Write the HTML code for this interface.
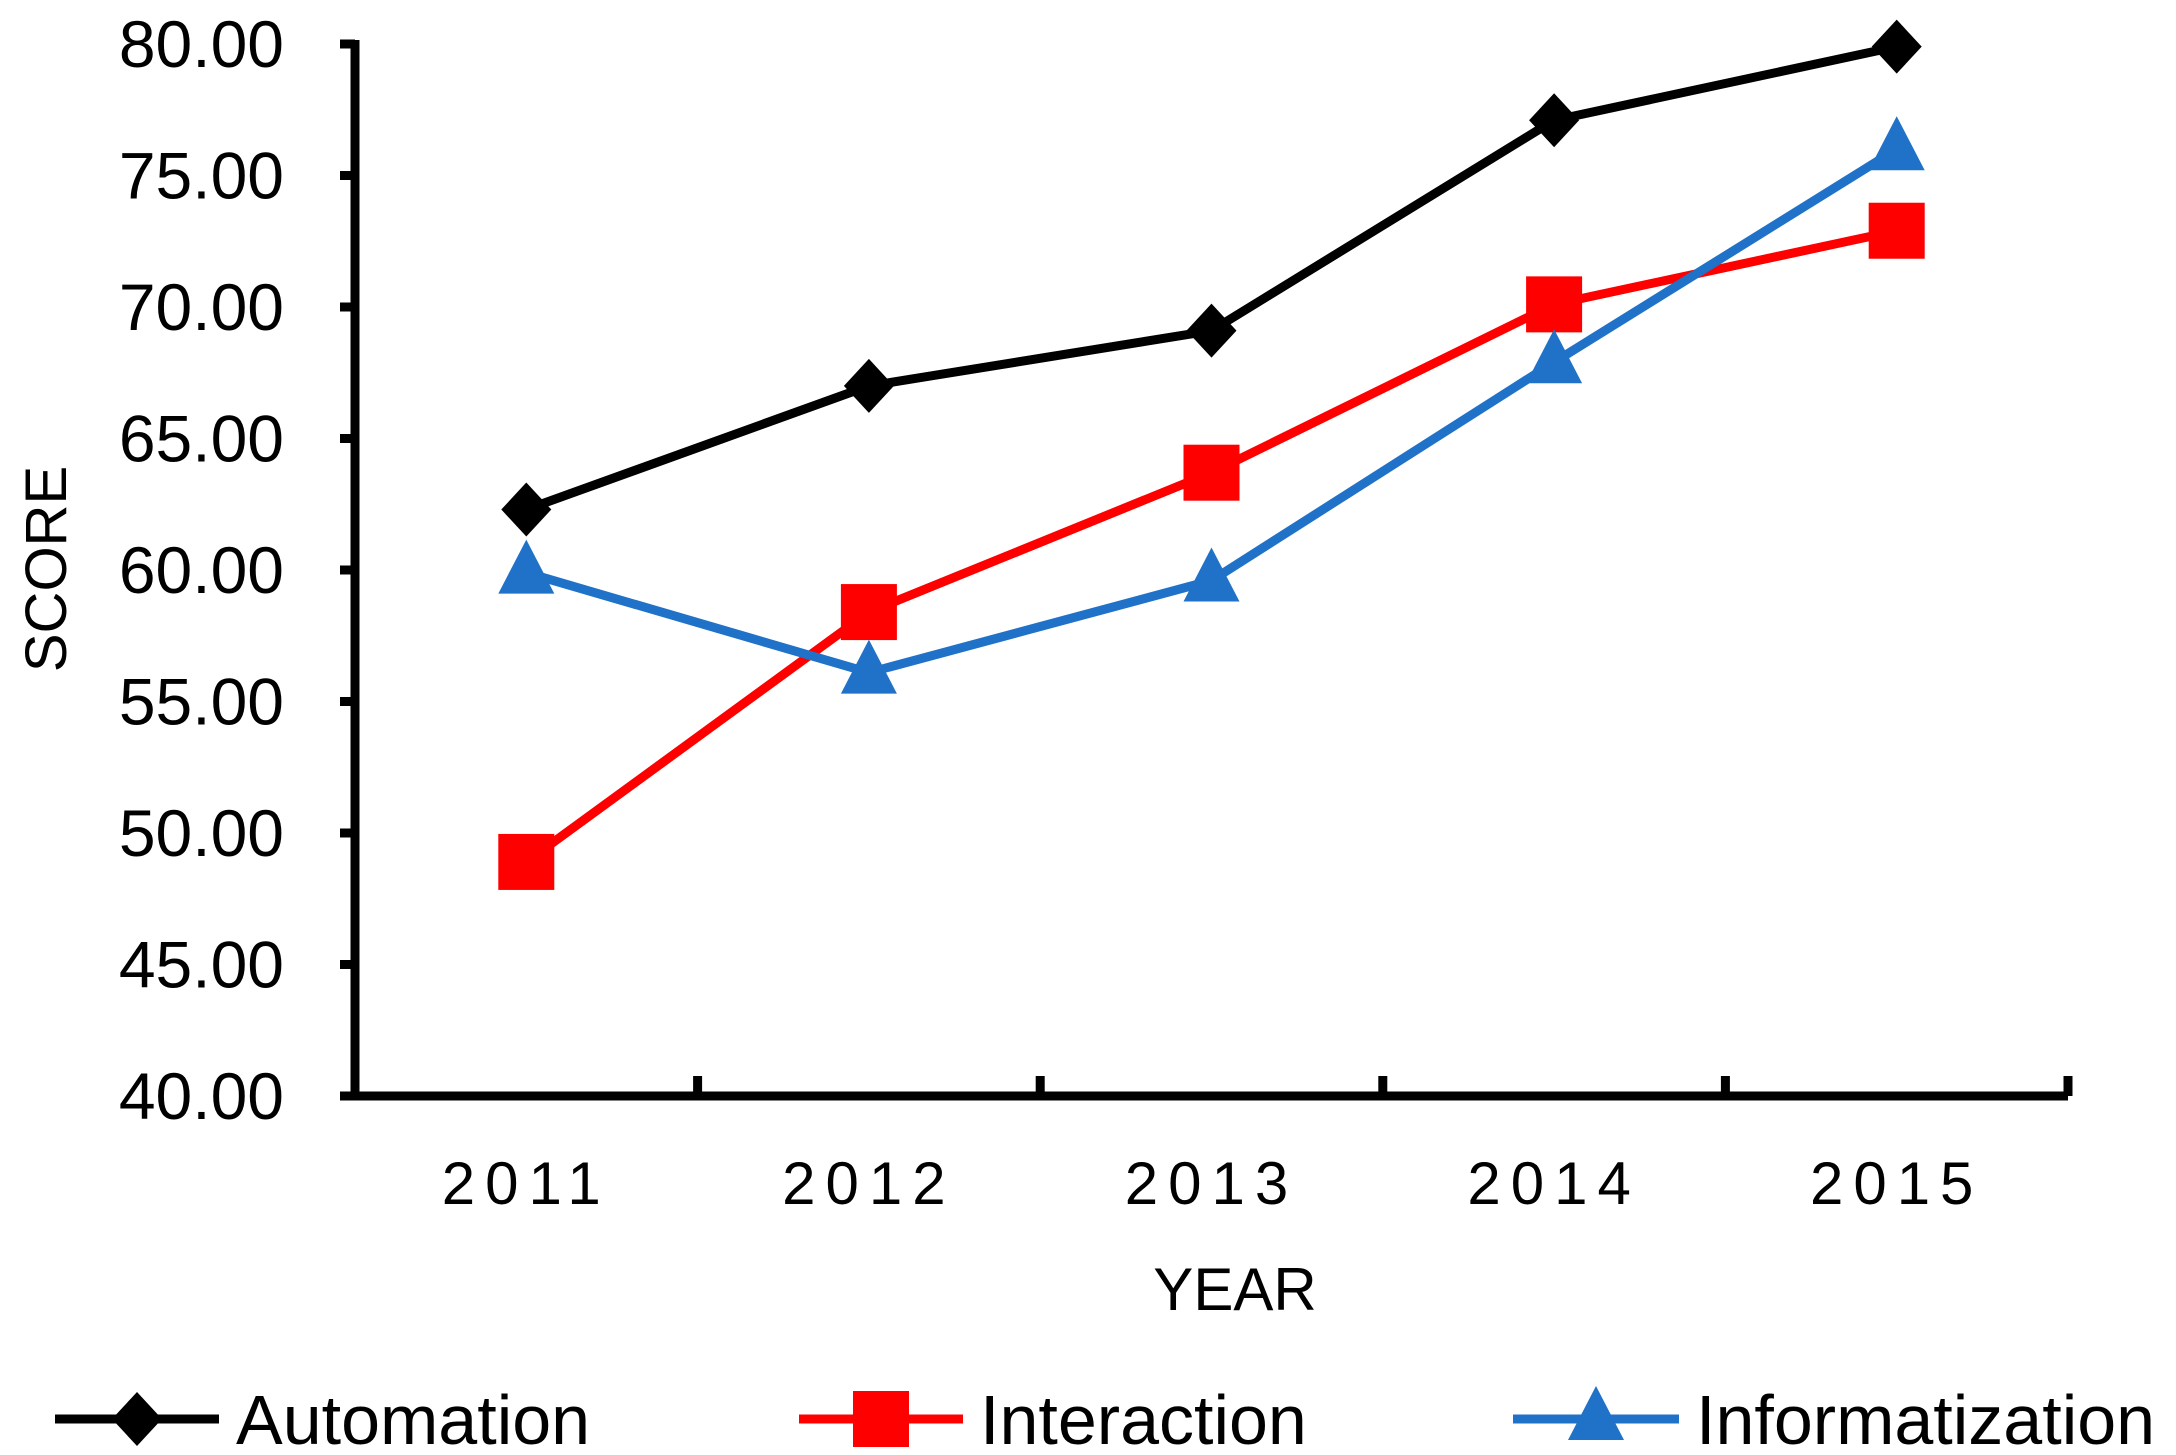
<!DOCTYPE html>
<html><head><meta charset="utf-8"><style>
html,body{margin:0;padding:0;background:#fff;}
svg{display:block;font-family:"Liberation Sans",sans-serif;}
</style></head><body>
<svg id="chart" width="2176" height="1455" viewBox="0 0 2176 1455">
<g id="axes"></g>
<g id="series"></g>
<g id="legend"></g>
</svg>
<script>
const categories = ["2011","2012","2013","2014","2015"];
const automation = [62.3, 67.0, 69.1, 77.1, 79.9];
const interaction = [48.9, 58.4, 63.7, 70.1, 72.9];
const informatization = [59.9, 56.1, 59.6, 67.9, 76.0];
const yTicks = [40,45,50,55,60,65,70,75,80];
const seriesNames = ["Automation","Interaction","Informatization"];

const NS="http://www.w3.org/2000/svg";
const X0=355,X1=2068,Y0=1096,Y1=44,YMIN=40,YMAX=80;
const step=(X1-X0)/categories.length;
function xPos(i){return X0+step*(i+0.5);}
function yPos(v){return Y0-(v-YMIN)/(YMAX-YMIN)*(Y0-Y1);}
function mk(tag,attrs,parent){const e=document.createElementNS(NS,tag);for(const k in attrs)e.setAttribute(k,attrs[k]);parent.appendChild(e);return e;}
const axes=document.getElementById('axes'),series=document.getElementById('series'),legend=document.getElementById('legend');

let e=mk('line',{x1:X0,y1:Y1-4,x2:X0,y2:Y0+4,stroke:'#000','stroke-width':9},axes);


e=mk('line',{x1:X0-4,y1:Y0,x2:X1,y2:Y0,stroke:'#000','stroke-width':9},axes);


yTicks.forEach(t=>{
  const y=yPos(t);
  let l=mk('line',{x1:X0-15,y1:y,x2:X0,y2:y,stroke:'#000','stroke-width':9},axes);
  
  
  let tx=mk('text',{x:284,y:y+23,'text-anchor':'end','font-size':66,fill:'#000'},axes);
  tx.textContent=t.toFixed(2);
  
  
});
for(let i=0;i<=categories.length;i++){
  const x=X0+step*i;
  let l=mk('line',{x1:x,y1:Y0-20,x2:x,y2:Y0,stroke:'#000','stroke-width':9},axes);
  
  
}
categories.forEach((c,i)=>{
  let tx=mk('text',{x:xPos(i),y:1204,'text-anchor':'middle','font-size':60,'letter-spacing':10,fill:'#000'},axes);
  tx.textContent=c;
  
  
});
let yt=mk('text',{x:0,y:0,transform:'translate(66,569) rotate(-90)','text-anchor':'middle','font-size':58,fill:'#000'},axes);
yt.textContent='SCORE';


let xt=mk('text',{x:1235,y:1310,'text-anchor':'middle','font-size':60,fill:'#000'},axes);
xt.textContent='YEAR';



function marker(kind,x,y,color,parent){
  let m;
  if(kind==='diamond') m=mk('polygon',{points:`${x},${y-27} ${x+25},${y} ${x},${y+27} ${x-25},${y}`,fill:color},parent);
  else if(kind==='square') m=mk('rect',{x:x-28,y:y-28,width:56,height:56,fill:color},parent);
  else m=mk('polygon',{points:`${x},${y-33} ${x+28},${y+21} ${x-28},${y+21}`,fill:color},parent);
  return m;
}
const defs=[[automation,'#000','diamond'],[interaction,'#ff0000','square'],[informatization,'#1f72c8','triangle']];
defs.forEach(([vals,color,kind],s)=>{
  const g=mk('g',{},series);
  
  
  const pl=mk('polyline',{points:vals.map((v,i)=>xPos(i)+','+yPos(v)).join(' '),fill:'none',stroke:color,'stroke-width':9,'stroke-linejoin':'round'},g);
  
  
  vals.forEach((v,i)=>{
    const m=marker(kind,xPos(i),yPos(v),color,g);
    
    
  });
});
const legX=[[55,219,236],[799,963,980],[1513,1679,1696]];
defs.forEach(([vals,color,kind],s)=>{
  const g=mk('g',{},legend);
  
  
  const [a,b,t]=legX[s];const y=1419;
  mk('line',{x1:a,y1:y,x2:b,y2:y,stroke:color,'stroke-width':9},g);
  marker(kind,(a+b)/2,y,color,g);
  const tx=mk('text',{x:t,y:y+25,'font-size':70,fill:'#000'},g);
  tx.textContent=seriesNames[s];
});
</script>
</body></html>
